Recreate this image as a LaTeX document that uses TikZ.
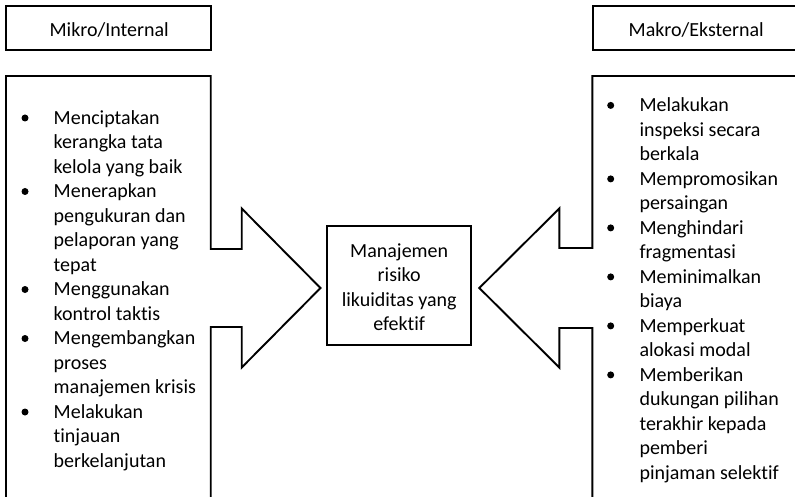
\documentclass[tikz,border=0pt]{standalone}
\usepackage{fontspec}
\setmainfont{Carlito}[Ligatures=NoCommon]
\begin{document}
\begin{tikzpicture}[x=1pt,y=-1pt,
  frame/.style={draw=black,line width=1.9pt},
  headbox/.style={frame,inner sep=0pt,minimum height=44pt},
  headtext/.style={inner sep=0pt,anchor=base,font=\fontsize{20}{24.5}\selectfont},
  listtext/.style={inner sep=0pt,anchor=base west,align=left,font=\fontsize{20}{24.5}\selectfont},
  dot/.style={fill=black,circle,inner sep=0pt,minimum size=7pt}]
\useasboundingbox (0,0) rectangle (795,497);
\clip (0,0) rectangle (795,497);

% header boxes
\node[headbox,minimum width=205pt] (mikro) at (108.5,28) {};
\node[headtext] (mikrotext) at (109.2,36.7) {Mikro/Internal};
\node[headbox,minimum width=210pt,anchor=west] (makro) at (592.3,28) {};
\node[headtext] (makrotext) at (696.2,36.3) {Makro/Eksternal};

% left block with arrow pointing right
\draw[frame,line join=miter] (6,76) -- (210.7,76) -- (210.7,249) -- (241.7,249) -- (241.7,208.5)
  -- (320.5,288) -- (241.7,367.5) -- (241.7,327) -- (210.7,327) -- (210.7,520) -- (6,520) -- cycle;

% right block with arrow pointing left
\draw[frame,line join=miter] (810,76) -- (592.3,76) -- (592.3,248) -- (559.3,248) -- (559.3,208.5)
  -- (479.3,288) -- (559.3,367.5) -- (559.3,328) -- (592.3,328) -- (592.3,520) -- (810,520) -- cycle;

% centre box (anchor base = baseline of the last line)
\node[frame,minimum width=143.7pt,minimum height=119pt,inner sep=0pt] (goal) at (399.2,285.5) {};
\node[inner sep=0pt,anchor=base,align=center,font=\fontsize{20}{24.5}\selectfont] (goaltext) at (399.2,330.8)
  {Manajemen\\risiko\\likuiditas yang\\efektif};

% left list
\node[listtext] (leftlist) at (53.5,467.3) {Menciptakan\\kerangka tata\\kelola yang baik\\Menerapkan\\pengukuran dan\\pelaporan yang\\tepat\\Menggunakan\\kontrol taktis\\Mengembangkan\\proses\\manajemen krisis\\Melakukan\\tinjauan\\berkelanjutan};
\foreach \i in {0,3,7,9,12}
  \node[dot] at (25,124.3+\i*24.5-6.3) {};

% right list
\node[listtext] (rightlist) at (639.3,479.2) {Melakukan\\inspeksi secara\\berkala\\Mempromosikan\\persaingan\\Menghindari\\fragmentasi\\Meminimalkan\\biaya\\Memperkuat\\alokasi modal\\Memberikan\\dukungan pilihan\\terakhir kepada\\pemberi\\pinjaman selektif};
\foreach \i in {0,3,5,7,9,11}
  \node[dot] at (610.7,111.7+\i*24.5-6.3) {};
\end{tikzpicture}
\end{document}
